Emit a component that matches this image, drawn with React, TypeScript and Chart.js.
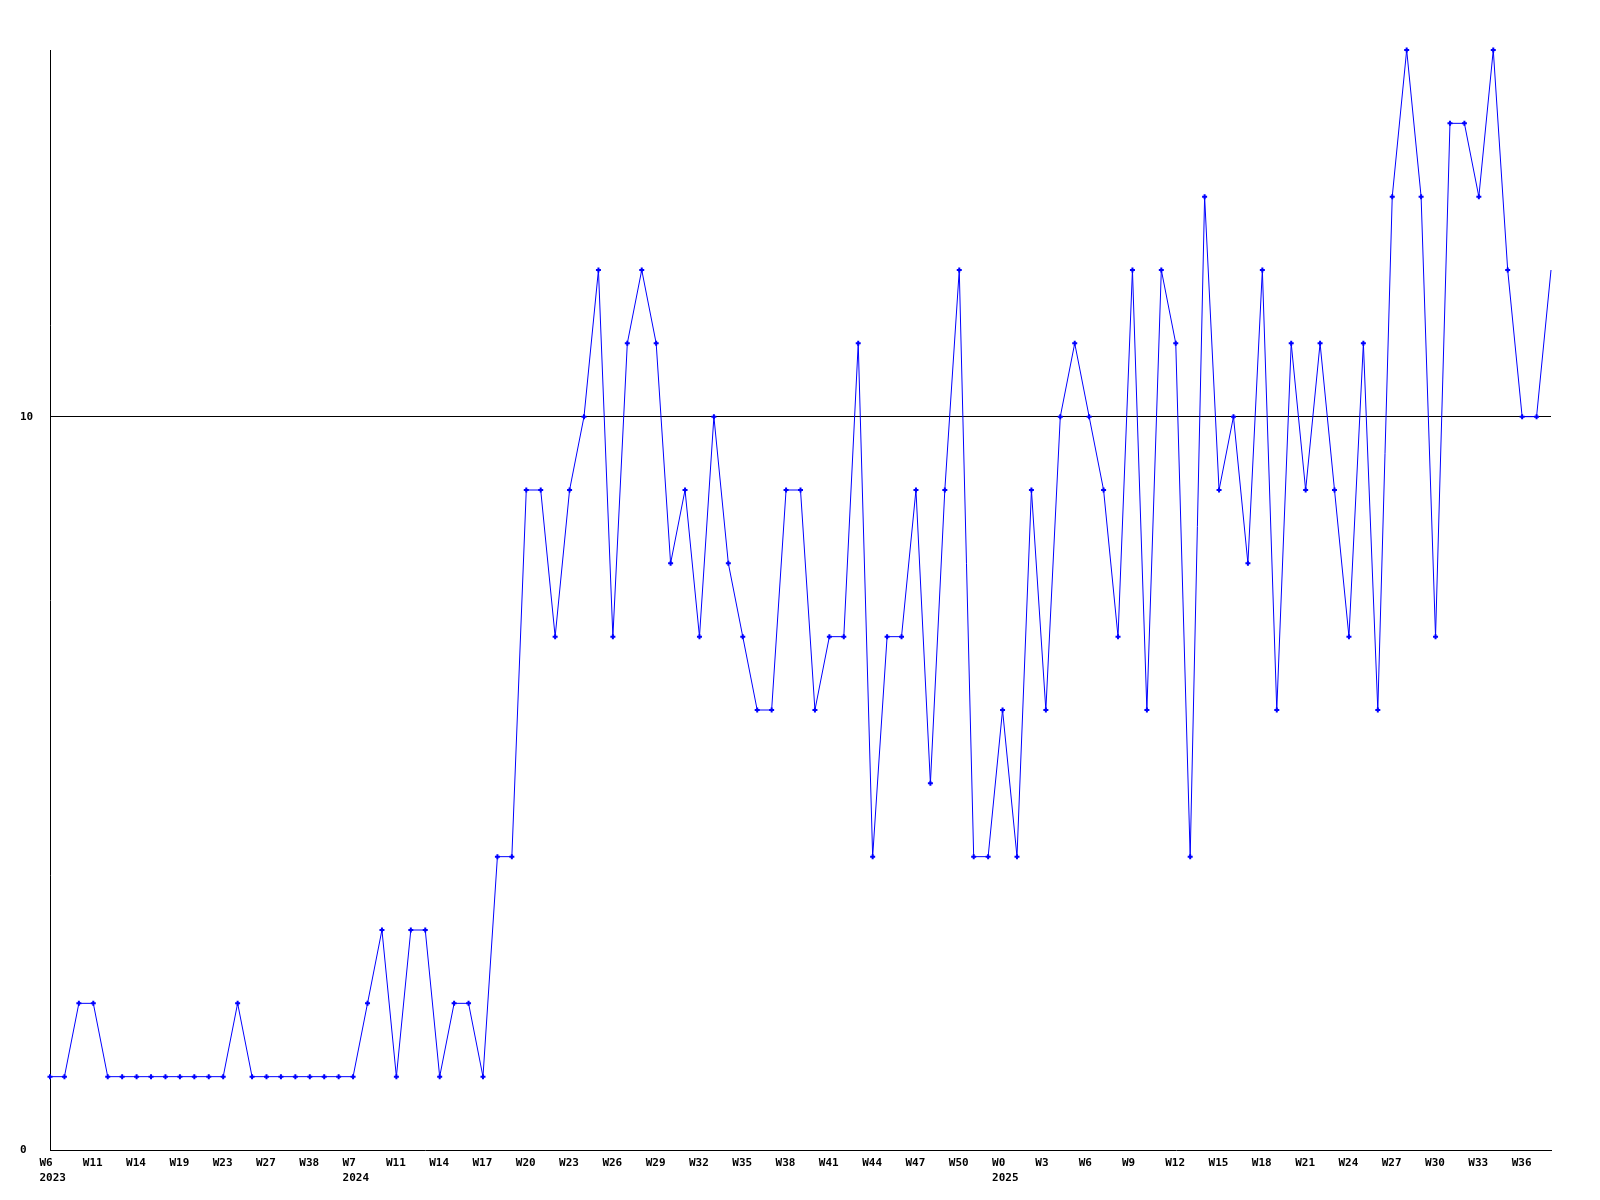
import React, { useEffect, useRef } from 'react';
import { Chart, registerables } from 'chart.js';
Chart.register(...registerables);

// Labels shown on every third category
const tickLabels: (string | string[])[] = [
  ['W6', '2023'], 'W11', 'W14', 'W19', 'W23', 'W27', 'W38',
  ['W7', '2024'], 'W11', 'W14', 'W17', 'W20', 'W23', 'W26', 'W29', 'W32', 'W35', 'W38', 'W41', 'W44', 'W47', 'W50',
  ['W0', '2025'], 'W3', 'W6', 'W9', 'W12', 'W15', 'W18', 'W21', 'W24', 'W27', 'W30', 'W33', 'W36',
];

const values2023: number[] = [1, 1, 2, 2, 1, 1, 1, 1, 1, 1, 1, 1, 1, 2, 1, 1, 1, 1, 1, 1, 1];
const values2024: number[] = [
  1, 2, 3, 1, 3, 3, 1, 2, 2, 1, 4, 4, 9, 9, 7, 9, 10, 12, 7, 11, 12, 11, 8, 9, 7, 10, 8, 7, 6, 6,
  9, 9, 6, 7, 7, 11, 4, 7, 7, 9, 5, 9, 12, 4, 4,
];
const values2025: number[] = [
  6, 4, 9, 6, 10, 11, 10, 9, 7, 12, 6, 12, 11, 4, 13, 9, 10, 8, 12, 6, 11, 9, 11, 9, 7, 11, 6, 13,
  15, 13, 7, 14, 14, 13, 15, 12, 10, 10, 12,
];

const yTickValues: number[] = [0, 10];
const yMin = 0;
const yMax = 15;

const values: number[] = [...values2023, ...values2024, ...values2025];
const categories: string[] = values.map((_, i) => String(i));

const FONT = { family: "'DejaVu Sans Mono', monospace", size: 11, weight: 'bold' as const, lineHeight: 1.4 };

export default function App() {
  const ref = useRef<HTMLCanvasElement | null>(null);
  useEffect(() => {
    if (!ref.current) return;
    const last = values.length - 1;
    const chart = new Chart(ref.current, {
      type: 'line',
      data: {
        labels: categories,
        datasets: [
          {
            data: values,
            borderColor: '#0000ff',
            backgroundColor: '#0000ff',
            borderWidth: 1,
            tension: 0,
            fill: false,
            pointStyle: 'cross',
            pointRadius: (ctx: any) => (ctx.dataIndex === last ? 0 : 2.5),
            pointBorderWidth: 2,
            pointBorderColor: '#0000ff',
            clip: false as any,
          },
        ],
      },
      options: {
        animation: false,
        responsive: false,
        maintainAspectRatio: false,
        layout: { padding: { left: 12, right: 41, top: 42, bottom: 0 } },
        plugins: { legend: { display: false }, tooltip: { enabled: false } },
        scales: {
          x: {
            type: 'category',
            offset: false,
            grid: { display: false, drawTicks: false },
            border: { display: true, color: '#000', width: 1 },
            afterFit: (scale: any) => {
              scale.height = 42;
            },
            ticks: {
              autoSkip: false,
              maxRotation: 0,
              minRotation: 0,
              align: 'start',
              labelOffset: -10.5,
              padding: 5,
              color: '#000',
              font: FONT,
              callback: (_v: any, i: number) => (i % 3 === 0 ? tickLabels[i / 3] ?? '' : ''),
            },
          },
          y: {
            min: yMin,
            max: yMax,
            afterBuildTicks: (scale: any) => {
              scale.ticks = yTickValues.map((v) => ({ value: v }));
            },
            afterFit: (scale: any) => {
              scale.width = 30;
            },
            grid: {
              drawTicks: false,
              color: (ctx: any) => (ctx.tick && ctx.tick.value === 10 ? '#000' : 'rgba(0,0,0,0)'),
              lineWidth: 1,
            },
            border: { display: true, color: '#000', width: 1 },
            ticks: {
              crossAlign: 'far',
              padding: 8,
              color: '#000',
              font: FONT,
            },
          },
        },
      },
    });
    return () => chart.destroy();
  }, []);
  return (
    <div style={{ width: 1584, height: 1184 }}>
      <canvas ref={ref} width={1584} height={1184} style={{ display: 'block', width: 1584, height: 1184 }} />
    </div>
  );
}
